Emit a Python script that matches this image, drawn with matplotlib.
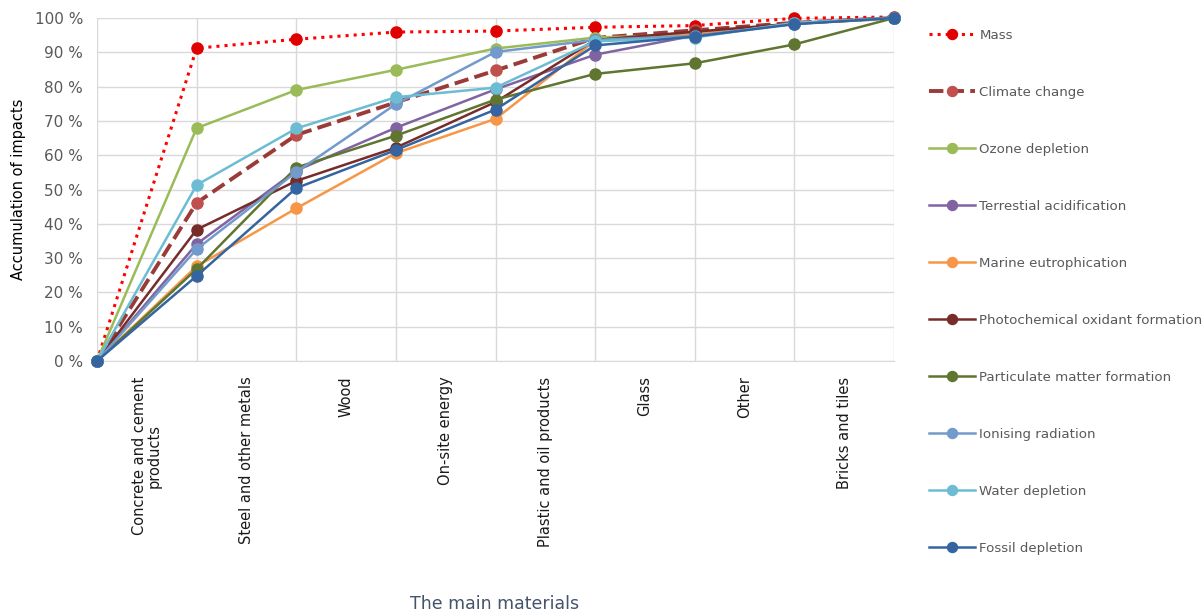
import matplotlib.pyplot as plt
import numpy as np

# Cumulative share of impacts after each material (first point = start at 0 %)
materials = ['Concrete and cement\nproducts', 'Steel and other metals', 'Wood',
             'On-site energy', 'Plastic and oil products', 'Glass', 'Other',
             'Bricks and tiles']

mass = [0, 91.2, 93.8, 95.9, 96.2, 97.3, 97.8, 99.9, 100.3]
climate = [0, 46.1, 65.9, 75.4, 84.7, 94.2, 96.4, 98.6, 100]
ozone = [0, 67.9, 79.0, 84.9, 91.1, 94.3, 95.2, 98.4, 100]
terrestrial = [0, 34.1, 55.5, 68.0, 79.2, 89.3, 94.9, 98.5, 100]
marine = [0, 27.6, 44.5, 60.6, 70.6, 93.4, 95.5, 98.3, 100]
photochem = [0, 38.3, 52.5, 62.2, 75.5, 93.6, 96.0, 98.4, 100]
particulate = [0, 26.8, 56.4, 65.7, 76.2, 83.7, 86.8, 92.3, 100]
ionising = [0, 32.6, 55.1, 74.9, 90.1, 93.6, 94.8, 98.3, 100]
water = [0, 51.3, 67.8, 76.9, 79.7, 93.2, 94.3, 98.6, 100]
fossil = [0, 24.8, 50.4, 61.5, 73.3, 92.0, 94.6, 98.2, 100]

series = [
    ('Mass', mass, '#FF0000', '#E00000', ':', 2.2),
    ('Climate change', climate, '#9B3B38', '#C0504D', '--', 2.8),
    ('Ozone depletion', ozone, '#9BBB59', '#9BBB59', '-', 1.8),
    ('Terrestial acidification', terrestrial, '#8064A2', '#8064A2', '-', 1.8),
    ('Marine eutrophication', marine, '#F79646', '#F79646', '-', 1.8),
    ('Photochemical oxidant formation', photochem, '#772C2A', '#772C2A', '-', 1.8),
    ('Particulate matter formation', particulate, '#5F7530', '#5F7530', '-', 1.8),
    ('Ionising radiation', ionising, '#729ACA', '#729ACA', '-', 1.8),
    ('Water depletion', water, '#6CBDD4', '#6CBDD4', '-', 1.8),
    ('Fossil depletion', fossil, '#3465A0', '#3465A0', '-', 1.8),
]

fig = plt.figure(figsize=(12.03, 6.14), dpi=100)
ax = fig.add_axes([97/1203, 1-361/614, (894-97)/1203, (361-18)/614])

x = np.arange(len(mass))
for name, vals, lc, mc, ls, lw in series:
    ax.plot(x, np.array(vals)/100, color=lc, ls=ls, lw=lw, marker='o',
            markersize=8, markerfacecolor=mc, markeredgecolor=mc,
            label=name, clip_on=False, zorder=3)

ax.set_xlim(0, 8)
ax.set_ylim(0, 1)
ax.set_yticks(np.arange(0, 1.01, 0.1))
ax.set_yticklabels([f'{i} %' for i in range(0, 101, 10)], color='#595959', fontsize=11)
ax.set_xticks(np.arange(9), minor=False)
ax.set_xticklabels([])
ax.grid(True, color='#D9D9D9', lw=1)
ax.tick_params(axis='both', length=0, pad=10)
for s in ['top', 'right', 'left']:
    ax.spines[s].set_visible(False)
ax.spines['bottom'].set_color('#D9D9D9')

for i, m in enumerate(materials):
    ax.text(i + 0.5, -0.045, m, rotation=90, ha='center', va='top',
            fontsize=10.5, color='#1a1a1a', linespacing=1.0)

ax.set_ylabel('Accumulation of impacts', fontsize=10.5, labelpad=6)
fig.text(495/1203, 1-604/614, 'The main materials', ha='center', va='center',
         fontsize=12.5, color='#44546A', family='Liberation Sans Narrow')

fig.legend(loc='upper left', bbox_to_anchor=(922/1203, 1-22/614), frameon=False,
           fontsize=9.6, labelcolor='#595959', handlelength=3.5, handletextpad=0.3,
           labelspacing=3.3, borderpad=0, markerscale=0.9)

fig.savefig('out.png', dpi=100)
